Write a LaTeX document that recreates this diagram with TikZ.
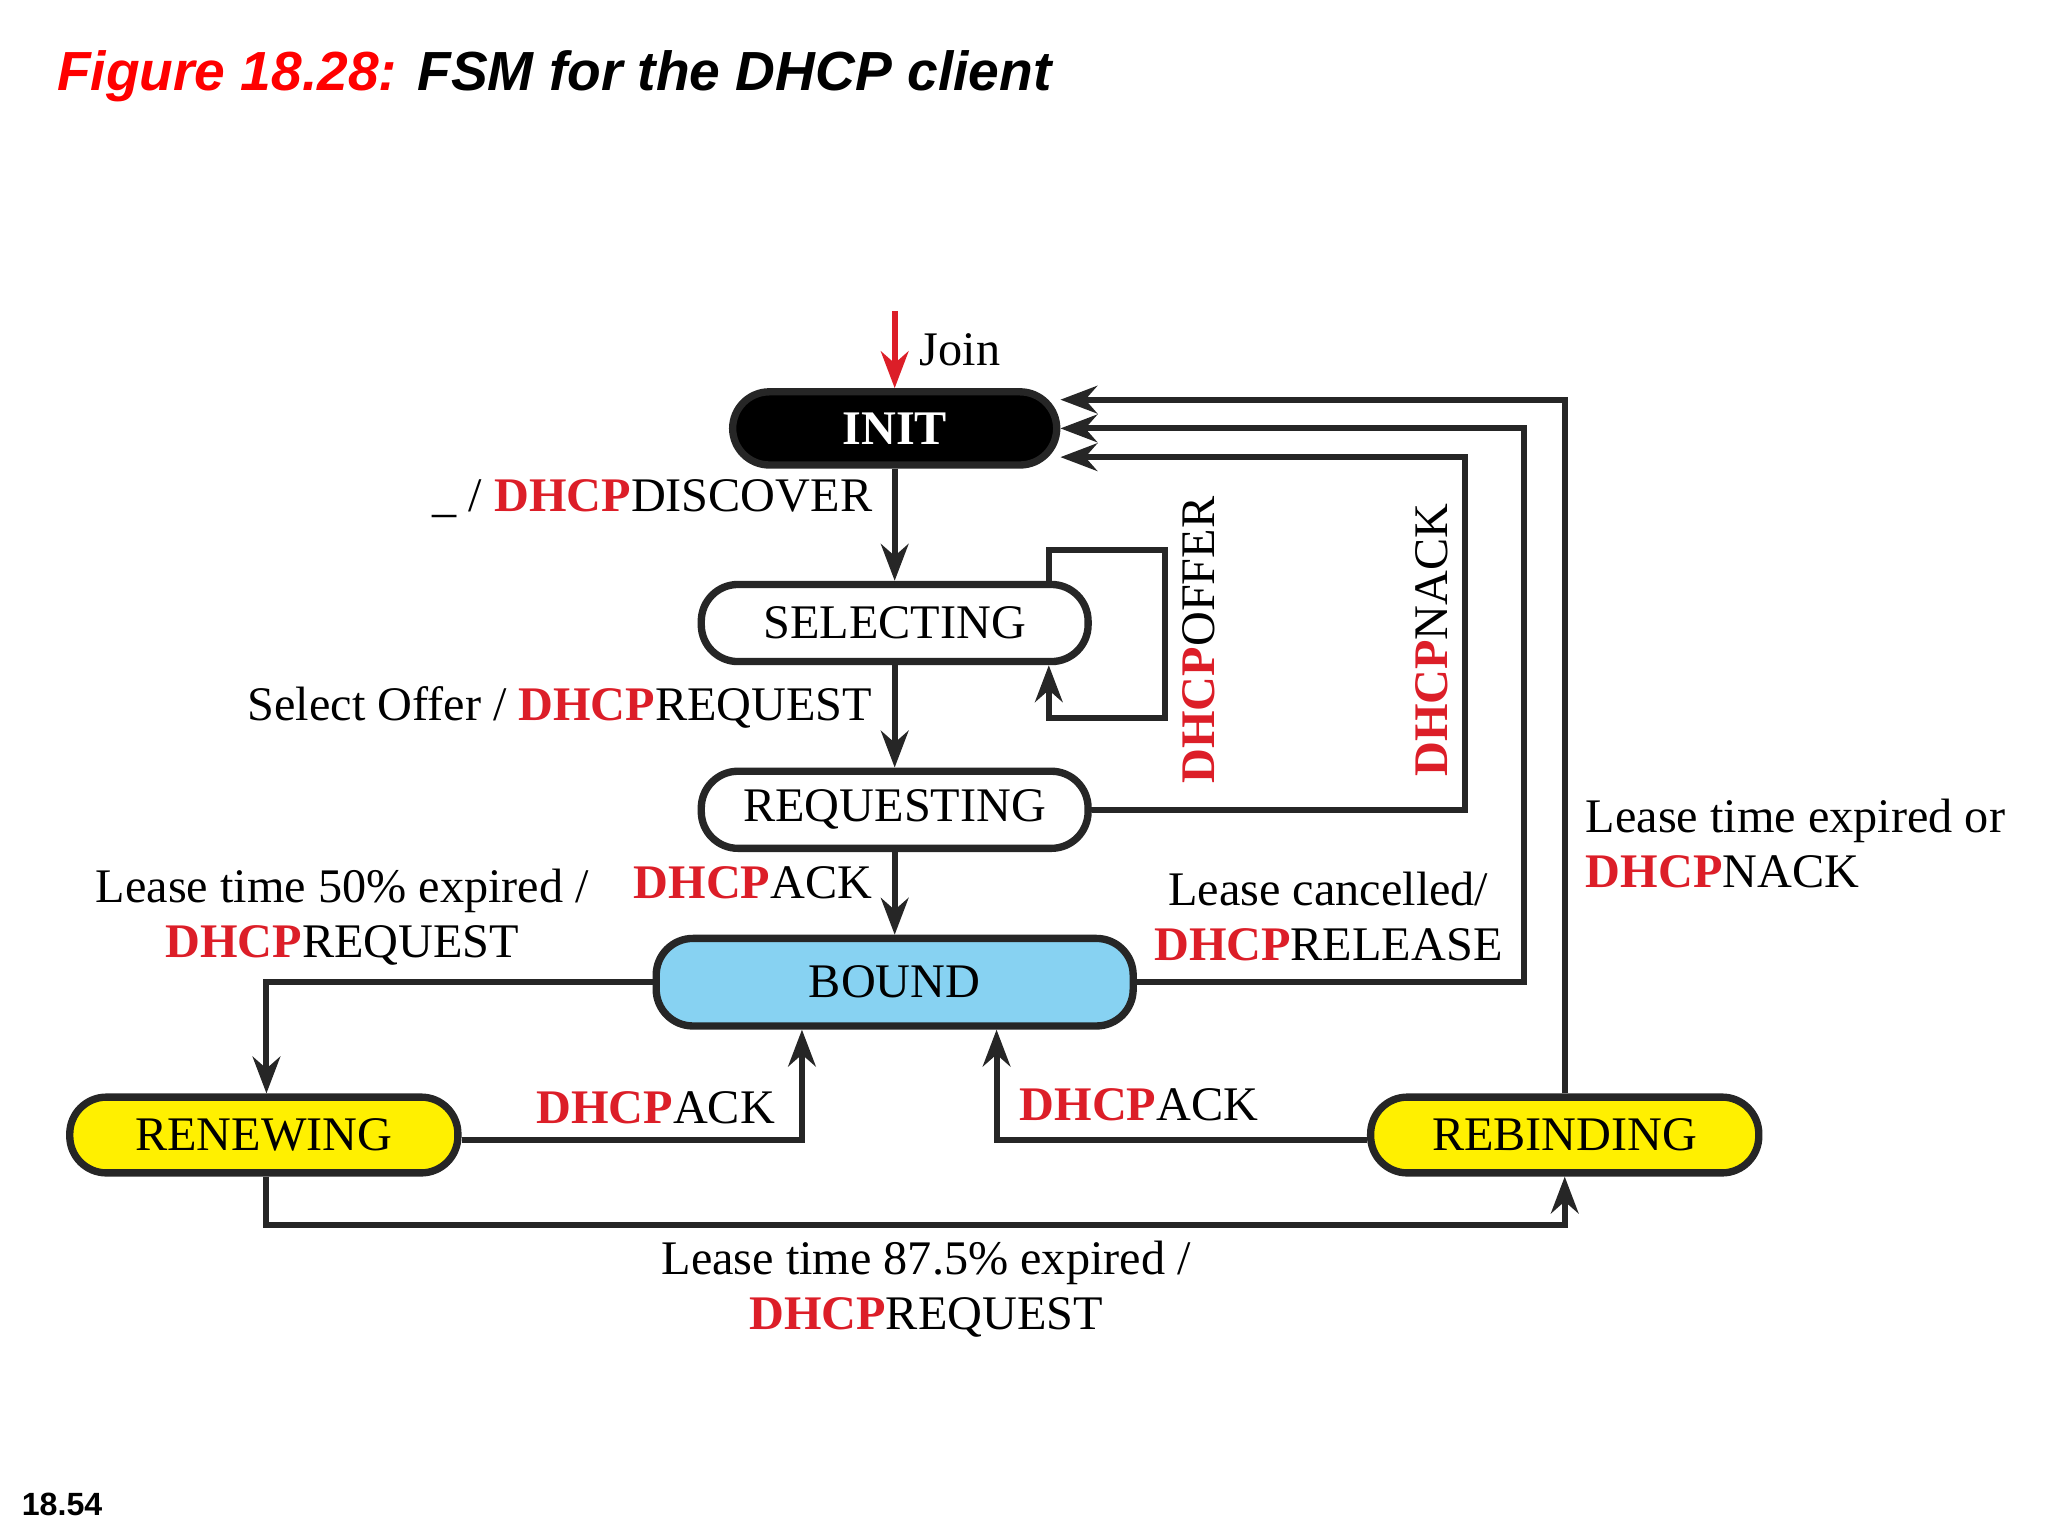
\documentclass[tikz,border=0pt]{standalone}
\usepackage{fontspec}
\setmainfont{Liberation Serif}
\newfontfamily\sansf{Liberation Sans}
\usetikzlibrary{arrows.meta}
\definecolor{dred}{RGB}{220,30,40}
\definecolor{lblue}{RGB}{135,210,242}
\definecolor{yel}{RGB}{255,240,0}
\newcommand{\D}{\textcolor{dred}{\textbf{DHCP}}}
\begin{document}
\begin{tikzpicture}[x=0.01cm,y=-0.01cm,
  st/.style={draw=black!85,line width=1.6pt,rounded corners=8pt,inner sep=0pt,font=\fontsize{10.5}{12}\selectfont},
  ed/.style={draw=black!85,line width=1.3pt,-{Stealth[length=8pt,width=6pt]}},
  lb/.style={font=\fontsize{10.5}{12}\selectfont,inner sep=1pt,align=center}]
\useasboundingbox (0,0) rectangle (1568,1176);
\node[anchor=west,inner sep=0pt,font=\sansf\bfseries\itshape\fontsize{12}{14}\selectfont] (title) at (43,58) {\textcolor{red}{Figure 18.28:} FSM for the DHCP client};
\node[anchor=west,inner sep=0pt,font=\sansf\bfseries\fontsize{7}{8}\selectfont] (pg) at (16,1152) {18.54};
\node[st,fill=black,text=white,minimum width=2.48cm,minimum height=0.56cm,font=\bfseries\fontsize{10.5}{12}\selectfont] (init) at (685,328) {INIT};
\node[st,fill=white,minimum width=2.96cm,minimum height=0.59cm] (sel) at (685,477) {SELECTING};
\node[st,fill=white,minimum width=2.96cm,minimum height=0.59cm] (req) at (685,620) {REQUESTING};
\node[st,fill=lblue,minimum width=3.65cm,minimum height=0.67cm] (bnd) at (685,752) {BOUND};
\node[st,fill=yel,minimum width=2.97cm,minimum height=0.58cm] (ren) at (202,869) {RENEWING};
\node[st,fill=yel,minimum width=2.97cm,minimum height=0.58cm] (reb) at (1198,869) {REBINDING};
\coordinate (j) at (685,238);
\draw[ed,draw=dred,color=dred] (j) -- (init.north);
\node[lb,anchor=west] at (700,268) {Join};
\draw[ed] (init.south) -- (sel.north);
\node[lb,anchor=east] at (672,382) {\_ / \D DISCOVER};
\draw[ed] (sel.south) -- (req.north);
\node[lb,anchor=east] at (672,542) {Select Offer / \D REQUEST};
\draw[ed] (req.south) -- (bnd.north);
\node[lb,anchor=east] at (672,676) {\D ACK};
\draw[ed] (803,448) |- (892,421) |- (803,550) -- (sel.south -| 803,0);
\node[lb,rotate=90] at (918,490) {\D OFFER};
\draw[ed] (req.east) -| (1122,350) -- (init.east |- 0,350);
\node[lb,rotate=90] at (1096,490) {\D NACK};
\draw[ed] (bnd.east) -| (1167,328) -- (init.east);
\node[lb] at (1017,702) {Lease cancelled/\\\D RELEASE};
\draw[ed] (bnd.west) -| (ren.north -| 204,0);
\node[lb] at (262,702) {Lease time 50\% expired /\\\D REQUEST};
\draw[ed] (ren.east |- 0,873) -| (bnd.south -| 614,0);
\node[lb] at (502,848) {\D ACK};
\draw[ed] (reb.west |- 0,873) -| (bnd.south -| 763,0);
\node[lb] at (872,846) {\D ACK};
\draw[ed] (ren.south -| 204,0) |- (1198,938) -- (reb.south);
\node[lb] at (709,987) {Lease time 87.5\% expired /\\\D REQUEST};
\draw[ed] (reb.north) |- (init.east |- 0,306);
\node[lb,anchor=west,align=left] at (1210,646) {Lease time expired or\\\D NACK};
\end{tikzpicture}
\end{document}
